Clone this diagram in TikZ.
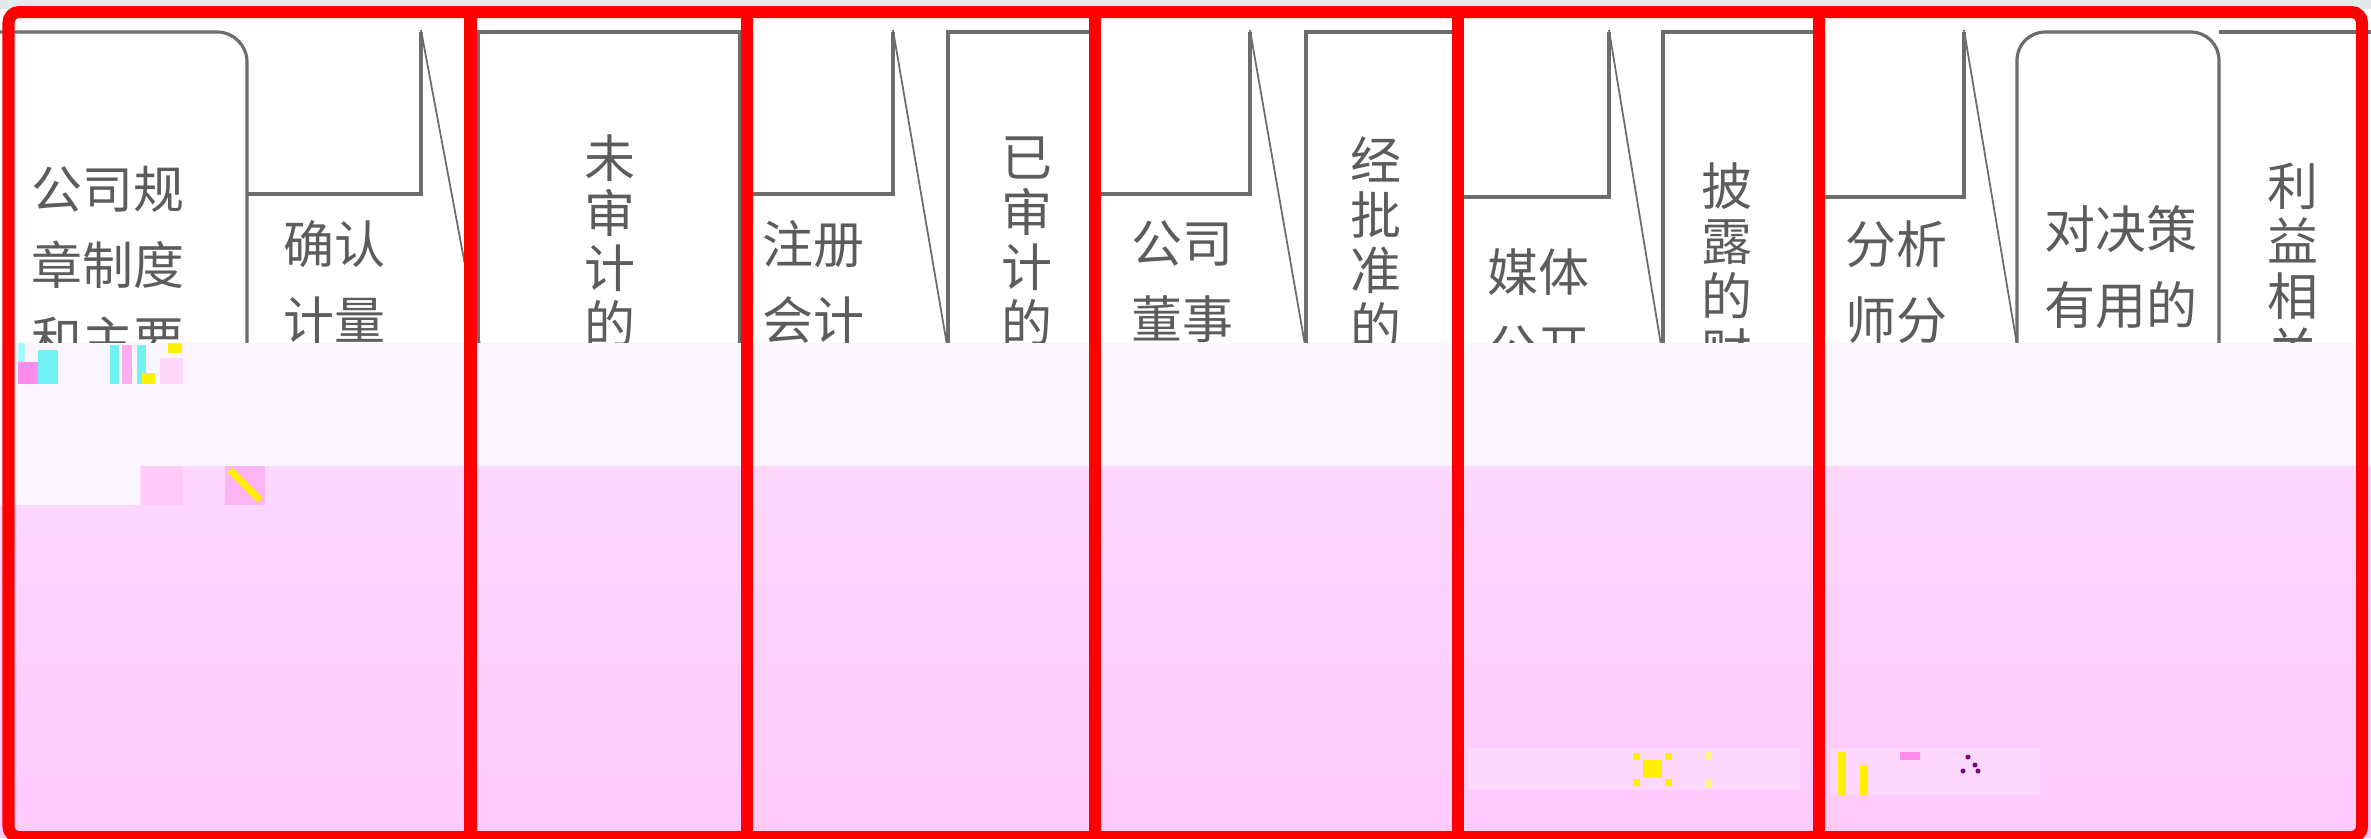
\documentclass[tikz,border=0pt]{standalone}
\usepackage{fontspec}
\newfontfamily\cjk{Noto Sans CJK SC}
\definecolor{ink}{HTML}{6C6C6C}
\definecolor{txt}{HTML}{5C5C5C}
\definecolor{lav}{HTML}{FAF5FE}
\definecolor{pinkA}{HTML}{FDD8FD}
\definecolor{pinkB}{HTML}{FDCAFC}
\definecolor{topband}{HTML}{E3EAEC}
\definecolor{glY}{HTML}{FFF000}
\definecolor{glC}{HTML}{70F2F5}
\definecolor{glM}{HTML}{FF8CEC}

\begin{document}
\begin{tikzpicture}[x=0.01cm, y=-0.01cm,
    boxline/.style={draw=ink, line width=0.9pt},
    slant/.style={draw=ink, line width=0.5pt},
    rows/.style={anchor=north, inner sep=0pt, align=center, text=txt,
      font=\cjk\fontsize{14.5pt}{21.6pt}\selectfont},
    stack/.style={rows, font=\cjk\fontsize{14.5pt}{15.7pt}\selectfont},
    frame/.style={draw=red, line width=0.12cm}]
    \useasboundingbox (0,0) rectangle (2371,838);
    \fill[white] (0,0) rectangle (2371,838);
    \fill[topband] (0,0) rectangle (2371,9);

    % boxes
    \draw[boxline, rounded corners=8.5pt] (0,32) -- (247,32) -- (247,350);
    \foreach \l/\r in {478/740, 948/1092, 1306/1455, 1663/1815}
    \draw[boxline] (\l,350) -- (\l,32) -- (\r,32) -- (\r,350);
    \draw[boxline, rounded corners=8pt] (2017,350) -- (2017,32) -- (2219,32) -- (2219,350);
    \draw[boxline] (2219,32) -- (2371,32);

    % wedges between the boxes
    \foreach \a/\b/\c/\h in {247/421/480/194, 740/893/947/194, 1095/1250/1305/194,
                             1455/1609/1661/197, 1815/1964/2017/197}
    {
    \draw[boxline] (\a,\h) -- (\b,\h) -- (\b,32);
    \draw[slant] (\b,30) -- (\c,345);
    }

    \node[rows] (rule) at (108,165) {公司规\\章制度\\和主要};
    \node[rows] (measure) at (334,220) {确认\\计量};
    \node[stack] (unaudited) at (610,134) {未\\审\\计\\的};
    \node[rows] (cpa) at (813,220) {注册\\会计};
    \node[stack] (audited) at (1027,136) {已\\审\\计\\的};
    \node[rows] (board) at (1182,220) {公司\\董事};
    \node[stack] (approved) at (1376,136) {经\\批\\准\\的};
    \node[rows] (media) at (1538,248) {媒体\\公开};
    \node[stack] (disclosed) at (1727,162) {披\\露\\的\\财};
    \node[rows] (analyst) at (1896,220) {分析\\师分};
    \node[rows] (useful) at (2121,205) {对决策\\有用的};
    \node[stack] (stake) at (2293,162) {利\\益\\相\\关};

    % cover
    \fill[lav] (0,343) rectangle (2371,466);
    \fill[lav] (0,466) rectangle (140,505);
    \shade[top color=pinkA, bottom color=pinkB]
      (0,505) -- (140,505) -- (140,466) -- (2371,466) -- (2371,838) -- (0,838) -- cycle;
    \fill[pinkA] (1468,748) rectangle (1800,790);
    \fill[pinkA] (1830,748) rectangle (2040,795);

    % glitches
    \fill[glC!60] (18,343) rectangle (25,384);
    \fill[glM] (18,362) rectangle (42,384);
    \fill[glC] (38,350) rectangle (58,384);
    \fill[glC] (110,345) rectangle (119,384);
    \fill[glM!70] (122,345) rectangle (132,384);
    \fill[glC] (137,345) rectangle (146,384);
    \fill[glM!35] (160,358) rectangle (183,384);
    \fill[glY] (168,343) rectangle (182,353);
    \fill[glY] (142,373) rectangle (155,384);
    \fill[glM!45] (142,466) rectangle (183,505);
    \fill[glM!65] (225,466) rectangle (265,505);
    \draw[glY, line width=0.07cm] (230,470) -- (260,500);
    \fill[glY] (1643,760) rectangle (1662,778);
    \foreach \x/\y in {1633/753, 1665/753, 1633/779, 1665/779}
    \fill[glY] (\x,\y) rectangle ++(7,7);
    \fill[glY!50] (1705,752) rectangle (1712,760);
    \fill[glY!50] (1705,780) rectangle (1712,788);
    \fill[glY] (1838,752) rectangle (1846,795);
    \fill[glY] (1860,765) rectangle (1868,795);
    \fill[glM] (1900,752) rectangle (1920,760);
    \foreach \x/\y in {1968/757, 1975/765, 1963/771, 1978/771}
    \fill[violet] (\x,\y) circle (2.5);

    % red frame
    \draw[frame, rounded corners=3pt] (8.5,12) rectangle (2362,837);
    \foreach \x in {470.5, 747, 1094.5, 1457.5, 1818.5}
    \draw[frame] (\x,12) -- (\x,837);
\end{tikzpicture}
\end{document}
